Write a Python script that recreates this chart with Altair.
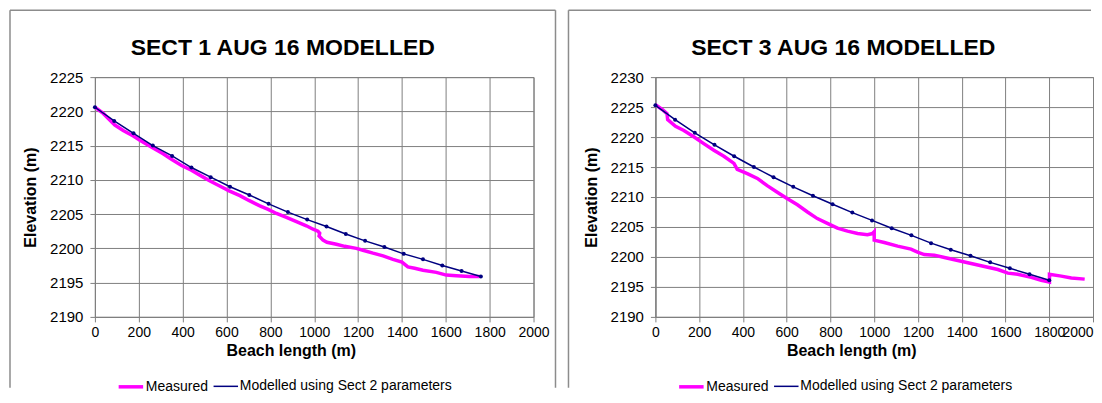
import altair as alt
import pandas as pd

FONT = "Liberation Sans"
MEAS = "Measured"
MOD = "Modelled using Sect 2 parameters"
MAGENTA = "#FF00FF"
NAVY = "#000080"
GRID = "#7f7f7f"
FRAME = "#8c8c8c"

# ---- SECT 1 ----
s1_title = "SECT 1 AUG 16 MODELLED"
s1_meas_x = [0, 38, 91, 129, 175, 205, 263, 311, 349, 395, 440, 494, 527, 569, 612, 661, 702, 752, 790, 828,
             876, 919, 964, 995, 1017, 1025, 1022, 1040, 1058, 1101, 1139, 1192, 1226, 1268, 1314, 1359, 1400,
             1427, 1458, 1496, 1557, 1602, 1648, 1708, 1754]
s1_meas_y = [2220.6, 2219.7, 2218.0, 2217.2, 2216.4, 2215.8, 2214.7, 2213.8, 2213.0, 2212.1, 2211.4, 2210.4,
             2209.8, 2209.1, 2208.4, 2207.7, 2207.0, 2206.2, 2205.7, 2205.1, 2204.5, 2203.9, 2203.3, 2202.8,
             2202.5, 2202.2, 2201.8, 2201.2, 2200.9, 2200.6, 2200.3, 2200.0, 2199.7, 2199.3, 2198.9, 2198.4,
             2198.0, 2197.3, 2197.1, 2196.8, 2196.5, 2196.1, 2196.0, 2195.9, 2195.9]
s1_mod_x = [0, 88, 176, 264, 352, 440, 528, 616, 704, 792, 880, 968, 1056, 1144, 1232, 1320, 1408, 1496,
            1584, 1672, 1760]
s1_mod_y = [2220.6, 2218.6, 2216.8, 2215.0, 2213.5, 2211.8, 2210.4, 2209.0, 2207.8, 2206.5, 2205.3, 2204.2,
            2203.2, 2202.1, 2201.1, 2200.2, 2199.2, 2198.4, 2197.5, 2196.7, 2195.9]
s1_y_ticks = [2190, 2195, 2200, 2205, 2210, 2215, 2220, 2225]

# ---- SECT 3 ----
s3_title = "SECT 3 AUG 16 MODELLED"
s3_meas_x = [0, 31, 53, 56, 92, 130, 177, 221, 267, 313, 359, 374, 420, 466, 511, 557, 600, 649, 695, 740,
             786, 832, 878, 924, 969, 992, 1000, 1000, 1046, 1107, 1168, 1198, 1229, 1275, 1321, 1382, 1443,
             1504, 1565, 1611, 1656, 1718, 1763, 1801, 1801, 1855, 1901, 1962]
s3_meas_y = [2225.4, 2224.6, 2223.9, 2222.9, 2221.8, 2221.1, 2220.0, 2218.9, 2217.8, 2216.8, 2215.6, 2214.6,
             2213.9, 2213.1, 2211.9, 2210.8, 2209.8, 2208.7, 2207.5, 2206.4, 2205.6, 2204.8, 2204.3, 2203.9,
             2203.7, 2203.9, 2204.2, 2202.8, 2202.4, 2201.8, 2201.3, 2200.8, 2200.4, 2200.3, 2199.9, 2199.4,
             2198.9, 2198.4, 2197.9, 2197.3, 2197.1, 2196.6, 2196.1, 2195.8, 2197.1, 2196.8, 2196.5, 2196.3]
s3_mod_x = [0, 90, 180, 270, 360, 450, 540, 630, 720, 810, 900, 990, 1080, 1170, 1260, 1350, 1440, 1530,
            1620, 1710, 1800]
s3_mod_y = [2225.3, 2222.9, 2220.7, 2218.7, 2216.8, 2215.0, 2213.3, 2211.7, 2210.2, 2208.8, 2207.4, 2206.1,
            2204.8, 2203.6, 2202.3, 2201.2, 2200.2, 2199.1, 2198.1, 2197.1, 2196.1]
s3_y_ticks = [2190, 2195, 2200, 2205, 2210, 2215, 2220, 2225, 2230]

x_ticks = [0, 200, 400, 600, 800, 1000, 1200, 1400, 1600, 1800, 2000]


def panel(title, mx, my, dx, dy, yticks, w, frame_left, frame_right, show_right, last_right):
    meas = pd.DataFrame({"x": mx, "y": my, "series": MEAS, "i": list(range(len(mx)))})
    mod = pd.DataFrame({"x": dx, "y": dy, "series": MOD, "i": list(range(len(dx)))})
    df = pd.concat([meas, mod], ignore_index=True)

    xaxis_kw = dict(values=x_ticks, title="Beach length (m)", format="d", labelFlush=False,
                    labelFontSize=14, labelPadding=4, titlePadding=3, titleX=196, titleAlign="center")
    if last_right:
        xaxis_kw["labelAlign"] = {"condition": {"test": "datum.value >= 2000", "value": "right"},
                                  "value": "center"}
    xenc = alt.X("x:Q", scale=alt.Scale(domain=[0, 2000], nice=False), axis=alt.Axis(**xaxis_kw))
    yenc = alt.Y("y:Q", scale=alt.Scale(domain=[yticks[0], yticks[-1]], nice=False, zero=False),
                 axis=alt.Axis(values=yticks, title="Elevation (m)", format="d", labelFlush=False,
                               labelFontSize=15, labelPadding=7, titleX=-64, titleBaseline="middle"))
    leg = alt.Legend(orient="none", legendX=22, legendY=296, direction="horizontal", title=None,
                     labelFontSize=14, labelFont=FONT, labelColor="black", symbolType="stroke",
                     symbolSize=600, labelOffset=1, columnPadding=1, labelLimit=0)
    color = alt.Color("series:N", scale=alt.Scale(domain=[MEAS, MOD], range=[MAGENTA, NAVY]), legend=leg)
    sw = alt.StrokeWidth("series:N", scale=alt.Scale(domain=[MEAS, MOD], range=[3.5, 1.5]), legend=leg)

    lines = alt.Chart(df).mark_line(clip=True).encode(
        x=xenc, y=yenc, color=color, strokeWidth=sw, order=alt.Order("i:Q"))
    pts = alt.Chart(mod).mark_point(filled=True, size=16, color=NAVY, opacity=1).encode(
        x=xenc, y=yenc)

    one = pd.DataFrame({"t": [title]})
    frame_top = alt.Chart(one).mark_rule(color=FRAME, strokeWidth=1.5).encode(
        x=alt.value(frame_left), x2=alt.value(frame_right), y=alt.value(-67))
    frame_l = alt.Chart(one).mark_rule(color=FRAME, strokeWidth=1.5).encode(
        x=alt.value(frame_left), y=alt.value(-67), y2=alt.value(311))
    layers = [frame_top, frame_l]
    if show_right:
        frame_r = alt.Chart(one).mark_rule(color=FRAME, strokeWidth=1.5).encode(
            x=alt.value(frame_right), y=alt.value(-67), y2=alt.value(311))
        layers.append(frame_r)
    ttl = alt.Chart(one).mark_text(font=FONT, fontSize=23, fontWeight="bold", align="center",
                                   baseline="alphabetic", color="black").encode(
        x=alt.value(188), y=alt.value(-22), text="t:N")
    return alt.layer(*layers, lines, pts, ttl).properties(width=w, height=240)


left = panel(s1_title, s1_meas_x, s1_meas_y, s1_mod_x, s1_mod_y, s1_y_ticks, 439, -85, 461, True, False)
right = panel(s3_title, s3_meas_x, s3_meas_y, s3_mod_x, s3_mod_y, s3_y_ticks, 438, -87, 436, False, True)

chart = alt.hconcat(left, right, spacing=9).resolve_scale(
    x="independent", y="independent", color="independent", strokeWidth="independent"
).properties(padding=0, background="white").configure_view(
    stroke=GRID, strokeWidth=1
).configure_axis(
    labelFont=FONT, labelColor="black", labelOverlap=False,
    titleFont=FONT, titleFontSize=16, titleFontWeight="bold", titleColor="black",
    gridColor=GRID, gridWidth=1, gridOpacity=1,
    domainColor=GRID, tickColor=GRID, tickSize=5
)

chart.save("out.html", embed_options={"renderer": "svg", "actions": False})
